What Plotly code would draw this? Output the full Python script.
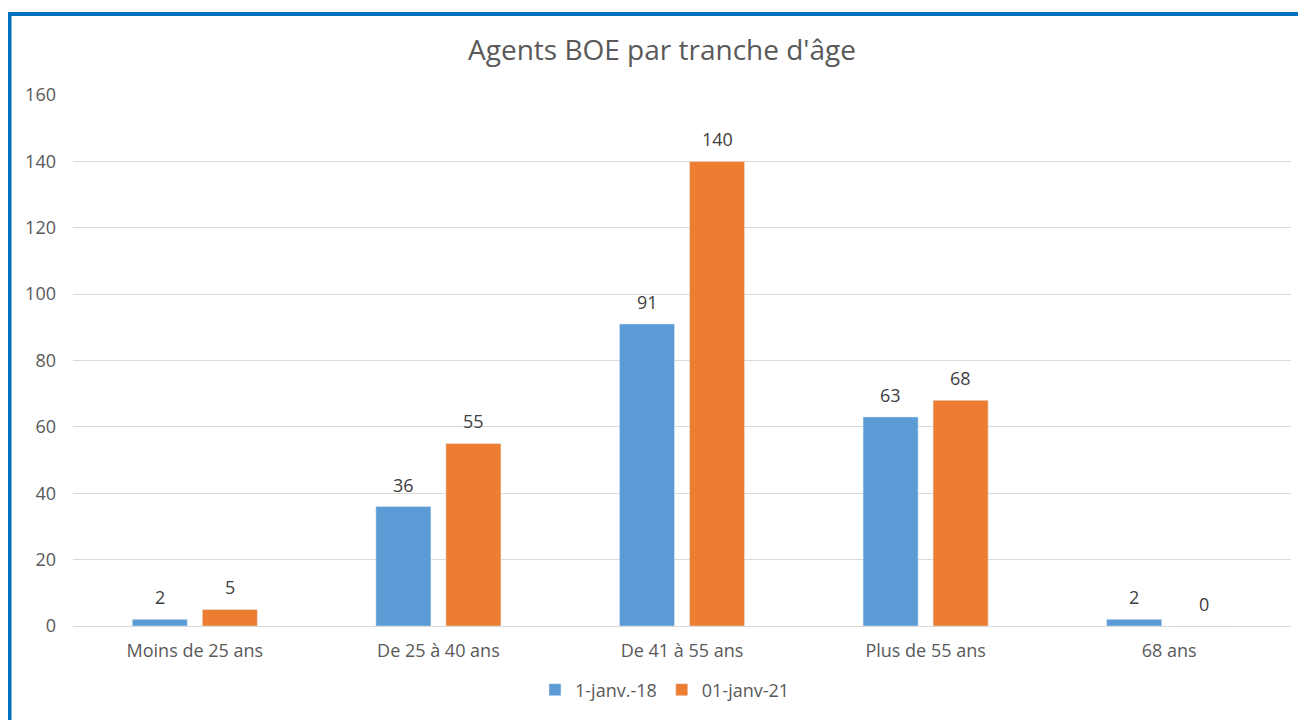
import plotly.graph_objects as go

categories = ["Moins de 25 ans", "De 25 à 40 ans", "De 41 à 55 ans", "Plus de 55 ans", "68 ans"]
series_2018 = [2, 36, 91, 63, 2]
series_2021 = [5, 55, 140, 68, 0]
name_2018 = "1-janv.-18"
name_2021 = "01-janv-21"
title = "Agents BOE par tranche d'âge"
y_ticks = [0, 20, 40, 60, 80, 100, 120, 140, 160]

FONT = "Open Sans, Lato, DejaVu Sans, sans-serif"
TXT = "#595959"
LBL = "#404040"

# page body has an 8px margin; the figure is drawn at (8, 8)
OFF = 8
W, H = 1306 - OFF, 720 - OFF
# target pixel positions on the screen
PLOT_L, PLOT_R, PLOT_T, PLOT_B = 73, 1291, 95, 626
L = PLOT_L - OFF
R = W - (PLOT_R - OFF)
T = PLOT_T - OFF
B = H - (PLOT_B - OFF)
pw, ph = W - L - R, H - T - B


def px_x(p):
    return (p - PLOT_L) / pw


def px_y(p):
    return (PLOT_B - p) / ph


fig = go.Figure()
series = [(series_2018, name_2018, "#5B9BD5", -35), (series_2021, name_2021, "#ED7D31", 35)]
for vals, name, color, shift in series:
    fig.add_trace(go.Bar(x=categories, y=vals, name=name, marker_color=color))
    for c, v in zip(categories, vals):
        fig.add_annotation(x=c, y=v, text=str(v), showarrow=False, xshift=shift, yshift=8,
                           yanchor="bottom", font=dict(size=18, color=LBL, family=FONT))

fig.update_layout(
    width=W, height=H,
    margin=dict(l=L, r=R, t=T, b=B),
    paper_bgcolor="white", plot_bgcolor="white",
    barmode="group", bargap=0.425, bargroupgap=0.214,
    title=dict(text=title, x=(662 - OFF) / W, xanchor="center", y=1 - (50 - OFF) / H, yanchor="middle",
               yref="container", xref="container", font=dict(size=28, color=TXT, family=FONT)),
    font=dict(family=FONT, color=TXT),
    legend=dict(orientation="h", x=px_x(665), xanchor="center", y=px_y(690), yanchor="middle",
                font=dict(size=18, color=TXT, family=FONT), itemwidth=30, traceorder="normal"),
    xaxis=dict(showgrid=False, showline=True, linecolor="#d9d9d9", linewidth=1,
               tickfont=dict(size=18, color=TXT, family=FONT), ticks="", ticklabelstandoff=8),
    yaxis=dict(range=[0, 160], tickvals=y_ticks, showgrid=True, gridcolor="#d9d9d9", gridwidth=1,
               zeroline=True, zerolinecolor="#d9d9d9", zerolinewidth=1, showline=False,
               tickfont=dict(size=18, color=TXT, family=FONT), ticklabelstandoff=16),
    showlegend=True,
)

fig.add_shape(type="line", xref="paper", yref="paper",
              x0=px_x(9.5), x1=px_x(9.5), y0=px_y(12), y1=px_y(740),
              line=dict(color="#0070C0", width=4), layer="above")
fig.add_shape(type="line", xref="paper", yref="paper",
              x0=px_x(7.5), x1=px_x(1320), y0=px_y(14), y1=px_y(14),
              line=dict(color="#0070C0", width=4), layer="above")

fig.write_html("out.html")
